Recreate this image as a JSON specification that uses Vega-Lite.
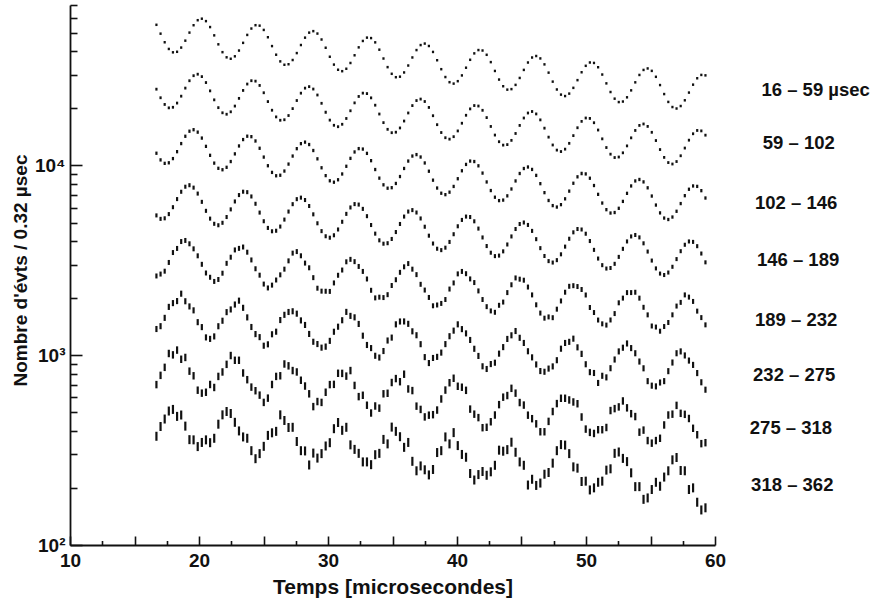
{
"$schema":"https://vega.github.io/schema/vega-lite/v6.json",
"width":645,"height":540,"autosize":"none",
"padding":{"left":70,"top":5,"right":167,"bottom":56},
"background":"white",
"config":{"view":{"stroke":null},"axis":{"domainColor":"#111","domainWidth":1.8,"tickColor":"#111","tickWidth":1.6,"labelColor":"#111","titleColor":"#111","labelFont":"Liberation Sans","titleFont":"Liberation Sans","labelFontWeight":"bold","titleFontWeight":"bold","grid":false,"labelFlush":false}},
"datasets":{
"lab":[
{"lab":"16 – 59  µsec","t":63.6,"n":24810},
{"lab":"59 – 102","t":63.7,"n":13050},
{"lab":"102 – 146","t":63.1,"n":6310},
{"lab":"146 – 189","t":63.25,"n":3160},
{"lab":"189 – 232","t":63.1,"n":1530},
{"lab":"232 –  275","t":62.95,"n":785},
{"lab":"275 – 318","t":62.7,"n":413},
{"lab":"318 – 362","t":62.8,"n":207}
],
"pts":[
{"k":1,"t":16.7,"n":55050},{"k":1,"t":17.02,"n":49440},{"k":1,"t":17.34,"n":44540},{"k":1,"t":17.66,"n":41070},{"k":1,"t":17.98,"n":39420},
{"k":1,"t":18.3,"n":39680},{"k":1,"t":18.62,"n":41760},{"k":1,"t":18.94,"n":45420},{"k":1,"t":19.26,"n":50080},{"k":1,"t":19.58,"n":54770},
{"k":1,"t":19.9,"n":58210},{"k":1,"t":20.22,"n":59280},{"k":1,"t":20.54,"n":57560},{"k":1,"t":20.86,"n":53560},{"k":1,"t":21.18,"n":48430},
{"k":1,"t":21.5,"n":43440},{"k":1,"t":21.82,"n":39500},{"k":1,"t":22.14,"n":37110},{"k":1,"t":22.46,"n":36460},{"k":1,"t":22.78,"n":37560},
{"k":1,"t":23.1,"n":40280},{"k":1,"t":23.42,"n":44220},{"k":1,"t":23.74,"n":48690},{"k":1,"t":24.06,"n":52610},{"k":1,"t":24.38,"n":54790},
{"k":1,"t":24.7,"n":54490},{"k":1,"t":25.02,"n":51730},{"k":1,"t":25.34,"n":47340},{"k":1,"t":25.66,"n":42520},{"k":1,"t":25.98,"n":38300},
{"k":1,"t":26.3,"n":35320},{"k":1,"t":26.62,"n":33900},{"k":1,"t":26.94,"n":34120},{"k":1,"t":27.26,"n":35910},{"k":1,"t":27.58,"n":39060},
{"k":1,"t":27.9,"n":43070},{"k":1,"t":28.22,"n":47100},{"k":1,"t":28.54,"n":50060},{"k":1,"t":28.86,"n":50980},{"k":1,"t":29.18,"n":49500},
{"k":1,"t":29.5,"n":46060},{"k":1,"t":29.82,"n":41650},{"k":1,"t":30.14,"n":37360},{"k":1,"t":30.46,"n":33970},{"k":1,"t":30.78,"n":31910},
{"k":1,"t":31.1,"n":31360},{"k":1,"t":31.42,"n":32300},{"k":1,"t":31.74,"n":34640},{"k":1,"t":32.06,"n":38030},{"k":1,"t":32.38,"n":41870},
{"k":1,"t":32.7,"n":45250},{"k":1,"t":33.02,"n":47120},{"k":1,"t":33.34,"n":46860},{"k":1,"t":33.66,"n":44490},{"k":1,"t":33.98,"n":40710},
{"k":1,"t":34.3,"n":36570},{"k":1,"t":34.62,"n":32940},{"k":1,"t":34.94,"n":30380},{"k":1,"t":35.26,"n":29150},{"k":1,"t":35.58,"n":29340},
{"k":1,"t":35.9,"n":30880},{"k":1,"t":36.22,"n":33590},{"k":1,"t":36.54,"n":37040},{"k":1,"t":36.86,"n":40510},{"k":1,"t":37.18,"n":43050},
{"k":1,"t":37.5,"n":43840},{"k":1,"t":37.82,"n":42570},{"k":1,"t":38.14,"n":39610},{"k":1,"t":38.46,"n":35820},{"k":1,"t":38.78,"n":32130},
{"k":1,"t":39.1,"n":29210},{"k":1,"t":39.42,"n":27440},{"k":1,"t":39.74,"n":26970},{"k":1,"t":40.06,"n":27780},{"k":1,"t":40.38,"n":29790},
{"k":1,"t":40.7,"n":32710},{"k":1,"t":41.02,"n":36010},{"k":1,"t":41.34,"n":38920},{"k":1,"t":41.66,"n":40520},{"k":1,"t":41.98,"n":40300},
{"k":1,"t":42.3,"n":38260},{"k":1,"t":42.62,"n":35010},{"k":1,"t":42.94,"n":31450},{"k":1,"t":43.26,"n":28330},{"k":1,"t":43.58,"n":26130},
{"k":1,"t":43.9,"n":25070},{"k":1,"t":44.22,"n":25230},{"k":1,"t":44.54,"n":26560},{"k":1,"t":44.86,"n":28890},{"k":1,"t":45.18,"n":31850},
{"k":1,"t":45.5,"n":34840},{"k":1,"t":45.82,"n":37020},{"k":1,"t":46.14,"n":37700},{"k":1,"t":46.46,"n":36610},{"k":1,"t":46.78,"n":34060},
{"k":1,"t":47.1,"n":30810},{"k":1,"t":47.42,"n":27630},{"k":1,"t":47.74,"n":25120},{"k":1,"t":48.06,"n":23600},{"k":1,"t":48.38,"n":23190},
{"k":1,"t":48.7,"n":23890},{"k":1,"t":49.02,"n":25620},{"k":1,"t":49.34,"n":28130},{"k":1,"t":49.66,"n":30970},{"k":1,"t":49.98,"n":33470},
{"k":1,"t":50.3,"n":34850},{"k":1,"t":50.62,"n":34660},{"k":1,"t":50.94,"n":32900},{"k":1,"t":51.26,"n":30110},{"k":1,"t":51.58,"n":27050},
{"k":1,"t":51.9,"n":24360},{"k":1,"t":52.22,"n":22470},{"k":1,"t":52.54,"n":21560},{"k":1,"t":52.86,"n":21700},{"k":1,"t":53.18,"n":22840},
{"k":1,"t":53.5,"n":24850},{"k":1,"t":53.82,"n":27390},{"k":1,"t":54.14,"n":29960},{"k":1,"t":54.46,"n":31840},{"k":1,"t":54.78,"n":32420},
{"k":1,"t":55.1,"n":31480},{"k":1,"t":55.42,"n":29290},{"k":1,"t":55.74,"n":26500},{"k":1,"t":56.06,"n":23760},{"k":1,"t":56.38,"n":21600},
{"k":1,"t":56.7,"n":20300},{"k":1,"t":57.02,"n":19940},{"k":1,"t":57.34,"n":20550},{"k":1,"t":57.66,"n":22030},{"k":1,"t":57.98,"n":24190},
{"k":1,"t":58.3,"n":26630},{"k":1,"t":58.62,"n":28780},{"k":1,"t":58.94,"n":29970},{"k":1,"t":59.26,"n":29810},
{"k":2,"t":16.7,"n":25210},{"k":2,"t":17.02,"n":22720},{"k":2,"t":17.34,"n":20950},{"k":2,"t":17.66,"n":20100},{"k":2,"t":17.98,"n":20240},
{"k":2,"t":18.3,"n":21300},{"k":2,"t":18.62,"n":23160},{"k":2,"t":18.94,"n":25540},{"k":2,"t":19.26,"n":27930},{"k":2,"t":19.58,"n":29690},
{"k":2,"t":19.9,"n":30230},{"k":2,"t":20.22,"n":29360},{"k":2,"t":20.54,"n":27320},{"k":2,"t":20.86,"n":24700},{"k":2,"t":21.18,"n":22150},
{"k":2,"t":21.5,"n":20150},{"k":2,"t":21.82,"n":18930},{"k":2,"t":22.14,"n":18600},{"k":2,"t":22.46,"n":19160},{"k":2,"t":22.78,"n":20540},
{"k":2,"t":23.1,"n":22550},{"k":2,"t":23.42,"n":24830},{"k":2,"t":23.74,"n":26830},{"k":2,"t":24.06,"n":27940},{"k":2,"t":24.38,"n":27790},
{"k":2,"t":24.7,"n":26380},{"k":2,"t":25.02,"n":24140},{"k":2,"t":25.34,"n":21690},{"k":2,"t":25.66,"n":19530},{"k":2,"t":25.98,"n":18010},
{"k":2,"t":26.3,"n":17290},{"k":2,"t":26.62,"n":17400},{"k":2,"t":26.94,"n":18310},{"k":2,"t":27.26,"n":19920},{"k":2,"t":27.58,"n":21970},
{"k":2,"t":27.9,"n":24020},{"k":2,"t":28.22,"n":25530},{"k":2,"t":28.54,"n":26000},{"k":2,"t":28.86,"n":25250},{"k":2,"t":29.18,"n":23490},
{"k":2,"t":29.5,"n":21240},{"k":2,"t":29.82,"n":19050},{"k":2,"t":30.14,"n":17320},{"k":2,"t":30.46,"n":16270},{"k":2,"t":30.78,"n":15990},
{"k":2,"t":31.1,"n":16470},{"k":2,"t":31.42,"n":17670},{"k":2,"t":31.74,"n":19400},{"k":2,"t":32.06,"n":21350},{"k":2,"t":32.38,"n":23080},
{"k":2,"t":32.7,"n":24030},{"k":2,"t":33.02,"n":23900},{"k":2,"t":33.34,"n":22690},{"k":2,"t":33.66,"n":20760},{"k":2,"t":33.98,"n":18650},
{"k":2,"t":34.3,"n":16800},{"k":2,"t":34.62,"n":15490},{"k":2,"t":34.94,"n":14870},{"k":2,"t":35.26,"n":14960},{"k":2,"t":35.58,"n":15750},
{"k":2,"t":35.9,"n":17130},{"k":2,"t":36.22,"n":18890},{"k":2,"t":36.54,"n":20660},{"k":2,"t":36.86,"n":21960},{"k":2,"t":37.18,"n":22360},
{"k":2,"t":37.5,"n":21710},{"k":2,"t":37.82,"n":20200},{"k":2,"t":38.14,"n":18270},{"k":2,"t":38.46,"n":16390},{"k":2,"t":38.78,"n":14900},
{"k":2,"t":39.1,"n":13990},{"k":2,"t":39.42,"n":13750},{"k":2,"t":39.74,"n":14170},{"k":2,"t":40.06,"n":15190},{"k":2,"t":40.38,"n":16680},
{"k":2,"t":40.7,"n":18370},{"k":2,"t":41.02,"n":19850},{"k":2,"t":41.34,"n":20670},{"k":2,"t":41.66,"n":20550},{"k":2,"t":41.98,"n":19510},
{"k":2,"t":42.3,"n":17860},{"k":2,"t":42.62,"n":16040},{"k":2,"t":42.94,"n":14450},{"k":2,"t":43.26,"n":13330},{"k":2,"t":43.58,"n":12790},
{"k":2,"t":43.9,"n":12870},{"k":2,"t":44.22,"n":13550},{"k":2,"t":44.54,"n":14730},{"k":2,"t":44.86,"n":16240},{"k":2,"t":45.18,"n":17770},
{"k":2,"t":45.5,"n":18880},{"k":2,"t":45.82,"n":19230},{"k":2,"t":46.14,"n":18670},{"k":2,"t":46.46,"n":17370},{"k":2,"t":46.78,"n":15710},
{"k":2,"t":47.1,"n":14090},{"k":2,"t":47.42,"n":12810},{"k":2,"t":47.74,"n":12040},{"k":2,"t":48.06,"n":11830},{"k":2,"t":48.38,"n":12180},
{"k":2,"t":48.7,"n":13070},{"k":2,"t":49.02,"n":14350},{"k":2,"t":49.34,"n":15790},{"k":2,"t":49.66,"n":17070},{"k":2,"t":49.98,"n":17770},
{"k":2,"t":50.3,"n":17680},{"k":2,"t":50.62,"n":16780},{"k":2,"t":50.94,"n":15360},{"k":2,"t":51.26,"n":13800},{"k":2,"t":51.58,"n":12420},
{"k":2,"t":51.9,"n":11460},{"k":2,"t":52.22,"n":11000},{"k":2,"t":52.54,"n":11070},{"k":2,"t":52.86,"n":11650},{"k":2,"t":53.18,"n":12670},
{"k":2,"t":53.5,"n":13970},{"k":2,"t":53.82,"n":15280},{"k":2,"t":54.14,"n":16240},{"k":2,"t":54.46,"n":16530},{"k":2,"t":54.78,"n":16050},
{"k":2,"t":55.1,"n":14940},{"k":2,"t":55.42,"n":13520},{"k":2,"t":55.74,"n":12120},{"k":2,"t":56.06,"n":11020},{"k":2,"t":56.38,"n":10350},
{"k":2,"t":56.7,"n":10170},{"k":2,"t":57.02,"n":10480},{"k":2,"t":57.34,"n":11240},{"k":2,"t":57.66,"n":12340},{"k":2,"t":57.98,"n":13580},
{"k":2,"t":58.3,"n":14680},{"k":2,"t":58.62,"n":15280},{"k":2,"t":58.94,"n":15200},{"k":2,"t":59.26,"n":14430},
{"k":3,"t":16.7,"n":11590},{"k":3,"t":17.02,"n":10690},{"k":3,"t":17.34,"n":10250},{"k":3,"t":17.66,"n":10320},{"k":3,"t":17.98,"n":10860},
{"k":3,"t":18.3,"n":11810},{"k":3,"t":18.62,"n":13030},{"k":3,"t":18.94,"n":14240},{"k":3,"t":19.26,"n":15140},{"k":3,"t":19.58,"n":15420},
{"k":3,"t":19.9,"n":14970},{"k":3,"t":20.22,"n":13930},{"k":3,"t":20.54,"n":12600},{"k":3,"t":20.86,"n":11300},{"k":3,"t":21.18,"n":10280},
{"k":3,"t":21.5,"n":9654},{"k":3,"t":21.82,"n":9486},{"k":3,"t":22.14,"n":9772},{"k":3,"t":22.46,"n":10480},{"k":3,"t":22.78,"n":11500},
{"k":3,"t":23.1,"n":12660},{"k":3,"t":23.42,"n":13680},{"k":3,"t":23.74,"n":14250},{"k":3,"t":24.06,"n":14170},{"k":3,"t":24.38,"n":13450},
{"k":3,"t":24.7,"n":12310},{"k":3,"t":25.02,"n":11060},{"k":3,"t":25.34,"n":9960},{"k":3,"t":25.66,"n":9185},{"k":3,"t":25.98,"n":8818},
{"k":3,"t":26.3,"n":8874},{"k":3,"t":26.62,"n":9338},{"k":3,"t":26.94,"n":10160},{"k":3,"t":27.26,"n":11200},{"k":3,"t":27.58,"n":12250},
{"k":3,"t":27.9,"n":13020},{"k":3,"t":28.22,"n":13260},{"k":3,"t":28.54,"n":12880},{"k":3,"t":28.86,"n":11980},{"k":3,"t":29.18,"n":10830},
{"k":3,"t":29.5,"n":9716},{"k":3,"t":29.82,"n":8833},{"k":3,"t":30.14,"n":8298},{"k":3,"t":30.46,"n":8155},{"k":3,"t":30.78,"n":8400},
{"k":3,"t":31.1,"n":9012},{"k":3,"t":31.42,"n":9894},{"k":3,"t":31.74,"n":10890},{"k":3,"t":32.06,"n":11770},{"k":3,"t":32.38,"n":12260},
{"k":3,"t":32.7,"n":12190},{"k":3,"t":33.02,"n":11570},{"k":3,"t":33.34,"n":10590},{"k":3,"t":33.66,"n":9512},{"k":3,"t":33.98,"n":8568},
{"k":3,"t":34.3,"n":7900},{"k":3,"t":34.62,"n":7584},{"k":3,"t":34.94,"n":7630},{"k":3,"t":35.26,"n":8033},{"k":3,"t":35.58,"n":8736},
{"k":3,"t":35.9,"n":9634},{"k":3,"t":36.22,"n":10540},{"k":3,"t":36.54,"n":11200},{"k":3,"t":36.86,"n":11400},{"k":3,"t":37.18,"n":11070},
{"k":3,"t":37.5,"n":10300},{"k":3,"t":37.82,"n":9318},{"k":3,"t":38.14,"n":8359},{"k":3,"t":38.46,"n":7599},{"k":3,"t":38.78,"n":7135},
{"k":3,"t":39.1,"n":7013},{"k":3,"t":39.42,"n":7227},{"k":3,"t":39.74,"n":7747},{"k":3,"t":40.06,"n":8507},{"k":3,"t":40.38,"n":9369},
{"k":3,"t":40.7,"n":10120},{"k":3,"t":41.02,"n":10540},{"k":3,"t":41.34,"n":10480},{"k":3,"t":41.66,"n":9950},{"k":3,"t":41.98,"n":9109},
{"k":3,"t":42.3,"n":8180},{"k":3,"t":42.62,"n":7370},{"k":3,"t":42.94,"n":6798},{"k":3,"t":43.26,"n":6523},{"k":3,"t":43.58,"n":6564},
{"k":3,"t":43.9,"n":6911},{"k":3,"t":44.22,"n":7512},{"k":3,"t":44.54,"n":8282},{"k":3,"t":44.86,"n":9063},{"k":3,"t":45.18,"n":9629},
{"k":3,"t":45.5,"n":9807},{"k":3,"t":45.82,"n":9522},{"k":3,"t":46.14,"n":8859},{"k":3,"t":46.46,"n":8012},{"k":3,"t":46.78,"n":7186},
{"k":3,"t":47.1,"n":6533},{"k":3,"t":47.42,"n":6140},{"k":3,"t":47.74,"n":6033},{"k":3,"t":48.06,"n":6212},{"k":3,"t":48.38,"n":6666},
{"k":3,"t":48.7,"n":7319},{"k":3,"t":49.02,"n":8053},{"k":3,"t":49.34,"n":8706},{"k":3,"t":49.66,"n":9063},{"k":3,"t":49.98,"n":9017},
{"k":3,"t":50.3,"n":8558},{"k":3,"t":50.62,"n":7834},{"k":3,"t":50.94,"n":7038},{"k":3,"t":51.26,"n":6334},{"k":3,"t":51.58,"n":5845},
{"k":3,"t":51.9,"n":5610},{"k":3,"t":52.22,"n":5646},{"k":3,"t":52.54,"n":5942},{"k":3,"t":52.86,"n":6462},{"k":3,"t":53.18,"n":7125},
{"k":3,"t":53.5,"n":7793},{"k":3,"t":53.82,"n":8282},{"k":3,"t":54.14,"n":8430},{"k":3,"t":54.46,"n":8186},{"k":3,"t":54.78,"n":7619},
{"k":3,"t":55.1,"n":6895},{"k":3,"t":55.42,"n":6181},{"k":3,"t":55.74,"n":5620},{"k":3,"t":56.06,"n":5279},{"k":3,"t":56.38,"n":5187},
{"k":3,"t":56.7,"n":5345},{"k":3,"t":57.02,"n":5732},{"k":3,"t":57.34,"n":6293},{"k":3,"t":57.66,"n":6926},{"k":3,"t":57.98,"n":7487},
{"k":3,"t":58.3,"n":7793},{"k":3,"t":58.62,"n":7752},{"k":3,"t":58.94,"n":7359},{"k":3,"t":59.26,"n":6732},
{"k":4,"t":16.7,"n":5452},{"k":4,"t":17.02,"n":5228},{"k":4,"t":17.34,"n":5263},{"k":4,"t":17.66,"n":5539},{"k":4,"t":17.98,"n":6023},
{"k":4,"t":18.3,"n":6645},{"k":4,"t":18.62,"n":7262},{"k":4,"t":18.94,"n":7721},{"k":4,"t":19.26,"n":7864},{"k":4,"t":19.58,"n":7635},
{"k":4,"t":19.9,"n":7104},{"k":4,"t":20.22,"n":6426},{"k":4,"t":20.54,"n":5763},{"k":4,"t":20.86,"n":5243},{"k":4,"t":21.18,"n":4924},
{"k":4,"t":21.5,"n":4838},{"k":4,"t":21.82,"n":4984},{"k":4,"t":22.14,"n":5345},{"k":4,"t":22.46,"n":5865},{"k":4,"t":22.78,"n":6457},
{"k":4,"t":23.1,"n":6977},{"k":4,"t":23.42,"n":7268},{"k":4,"t":23.74,"n":7227},{"k":4,"t":24.06,"n":6860},{"k":4,"t":24.38,"n":6278},
{"k":4,"t":24.7,"n":5641},{"k":4,"t":25.02,"n":5080},{"k":4,"t":25.34,"n":4684},{"k":4,"t":25.66,"n":4497},{"k":4,"t":25.98,"n":4526},
{"k":4,"t":26.3,"n":4762},{"k":4,"t":26.62,"n":5182},{"k":4,"t":26.94,"n":5712},{"k":4,"t":27.26,"n":6248},{"k":4,"t":27.58,"n":6640},
{"k":4,"t":27.9,"n":6763},{"k":4,"t":28.22,"n":6569},{"k":4,"t":28.54,"n":6110},{"k":4,"t":28.86,"n":5523},{"k":4,"t":29.18,"n":4955},
{"k":4,"t":29.5,"n":4505},{"k":4,"t":29.82,"n":4232},{"k":4,"t":30.14,"n":4159},{"k":4,"t":30.46,"n":4284},{"k":4,"t":30.78,"n":4596},
{"k":4,"t":31.1,"n":5046},{"k":4,"t":31.42,"n":5554},{"k":4,"t":31.74,"n":6003},{"k":4,"t":32.06,"n":6253},{"k":4,"t":32.38,"n":6217},
{"k":4,"t":32.7,"n":5901},{"k":4,"t":33.02,"n":5401},{"k":4,"t":33.34,"n":4851},{"k":4,"t":33.66,"n":4370},{"k":4,"t":33.98,"n":4029},
{"k":4,"t":34.3,"n":3868},{"k":4,"t":34.62,"n":3891},{"k":4,"t":34.94,"n":4097},{"k":4,"t":35.26,"n":4455},{"k":4,"t":35.58,"n":4913},
{"k":4,"t":35.9,"n":5375},{"k":4,"t":36.22,"n":5712},{"k":4,"t":36.54,"n":5814},{"k":4,"t":36.86,"n":5646},{"k":4,"t":37.18,"n":5253},
{"k":4,"t":37.5,"n":4752},{"k":4,"t":37.82,"n":4263},{"k":4,"t":38.14,"n":3876},{"k":4,"t":38.46,"n":3639},{"k":4,"t":38.78,"n":3577},
{"k":4,"t":39.1,"n":3686},{"k":4,"t":39.42,"n":3951},{"k":4,"t":39.74,"n":4339},{"k":4,"t":40.06,"n":4778},{"k":4,"t":40.38,"n":5161},
{"k":4,"t":40.7,"n":5375},{"k":4,"t":41.02,"n":5345},{"k":4,"t":41.34,"n":5075},{"k":4,"t":41.66,"n":4646},{"k":4,"t":41.98,"n":4172},
{"k":4,"t":42.3,"n":3759},{"k":4,"t":42.62,"n":3467},{"k":4,"t":42.94,"n":3327},{"k":4,"t":43.26,"n":3348},{"k":4,"t":43.58,"n":3525},
{"k":4,"t":43.9,"n":3831},{"k":4,"t":44.22,"n":4224},{"k":4,"t":44.54,"n":4622},{"k":4,"t":44.86,"n":4911},{"k":4,"t":45.18,"n":5002},
{"k":4,"t":45.5,"n":4856},{"k":4,"t":45.82,"n":4518},{"k":4,"t":46.14,"n":4086},{"k":4,"t":46.46,"n":3665},{"k":4,"t":46.78,"n":3332},
{"k":4,"t":47.1,"n":3131},{"k":4,"t":47.42,"n":3077},{"k":4,"t":47.74,"n":3168},{"k":4,"t":48.06,"n":3400},{"k":4,"t":48.38,"n":3733},
{"k":4,"t":48.7,"n":4107},{"k":4,"t":49.02,"n":4440},{"k":4,"t":49.34,"n":4622},{"k":4,"t":49.66,"n":4599},{"k":4,"t":49.98,"n":4365},
{"k":4,"t":50.3,"n":3995},{"k":4,"t":50.62,"n":3589},{"k":4,"t":50.94,"n":3230},{"k":4,"t":51.26,"n":2981},{"k":4,"t":51.58,"n":2861},
{"k":4,"t":51.9,"n":2880},{"k":4,"t":52.22,"n":3030},{"k":4,"t":52.54,"n":3296},{"k":4,"t":52.86,"n":3634},{"k":4,"t":53.18,"n":3975},
{"k":4,"t":53.5,"n":4224},{"k":4,"t":53.82,"n":4299},{"k":4,"t":54.14,"n":4175},{"k":4,"t":54.46,"n":3886},{"k":4,"t":54.78,"n":3516},
{"k":4,"t":55.1,"n":3152},{"k":4,"t":55.42,"n":2866},{"k":4,"t":55.74,"n":2692},{"k":4,"t":56.06,"n":2645},{"k":4,"t":56.38,"n":2726},
{"k":4,"t":56.7,"n":2923},{"k":4,"t":57.02,"n":3209},{"k":4,"t":57.34,"n":3532},{"k":4,"t":57.66,"n":3818},{"k":4,"t":57.98,"n":3975},
{"k":4,"t":58.3,"n":3954},{"k":4,"t":58.62,"n":3753},{"k":4,"t":58.94,"n":3433},{"k":4,"t":59.26,"n":3085},
{"k":5,"t":16.7,"n":2615},{"k":5,"t":17.02,"n":2676},{"k":5,"t":17.34,"n":2771},{"k":5,"t":17.66,"n":3081},{"k":5,"t":17.98,"n":3474},
{"k":5,"t":18.3,"n":3652},{"k":5,"t":18.62,"n":3970},{"k":5,"t":18.94,"n":4023},{"k":5,"t":19.26,"n":3863},{"k":5,"t":19.58,"n":3634},
{"k":5,"t":19.9,"n":3339},{"k":5,"t":20.22,"n":3012},{"k":5,"t":20.54,"n":2711},{"k":5,"t":20.86,"n":2574},{"k":5,"t":21.18,"n":2447},
{"k":5,"t":21.5,"n":2506},{"k":5,"t":21.82,"n":2704},{"k":5,"t":22.14,"n":3048},{"k":5,"t":22.46,"n":3283},{"k":5,"t":22.78,"n":3586},
{"k":5,"t":23.1,"n":3655},{"k":5,"t":23.42,"n":3715},{"k":5,"t":23.74,"n":3489},{"k":5,"t":24.06,"n":3176},{"k":5,"t":24.38,"n":2854},
{"k":5,"t":24.7,"n":2640},{"k":5,"t":25.02,"n":2370},{"k":5,"t":25.34,"n":2261},{"k":5,"t":25.66,"n":2340},{"k":5,"t":25.98,"n":2490},
{"k":5,"t":26.3,"n":2651},{"k":5,"t":26.62,"n":2840},{"k":5,"t":26.94,"n":3141},{"k":5,"t":27.26,"n":3450},{"k":5,"t":27.58,"n":3515},
{"k":5,"t":27.9,"n":3340},{"k":5,"t":28.22,"n":3057},{"k":5,"t":28.54,"n":2887},{"k":5,"t":28.86,"n":2562},{"k":5,"t":29.18,"n":2254},
{"k":5,"t":29.5,"n":2175},{"k":5,"t":29.82,"n":2174},{"k":5,"t":30.14,"n":2168},{"k":5,"t":30.46,"n":2403},{"k":5,"t":30.78,"n":2637},
{"k":5,"t":31.1,"n":2810},{"k":5,"t":31.42,"n":3105},{"k":5,"t":31.74,"n":3199},{"k":5,"t":32.06,"n":3111},{"k":5,"t":32.38,"n":2935},
{"k":5,"t":32.7,"n":2763},{"k":5,"t":33.02,"n":2521},{"k":5,"t":33.34,"n":2198},{"k":5,"t":33.66,"n":2004},{"k":5,"t":33.98,"n":2022},
{"k":5,"t":34.3,"n":2012},{"k":5,"t":34.62,"n":2084},{"k":5,"t":34.94,"n":2329},{"k":5,"t":35.26,"n":2498},{"k":5,"t":35.58,"n":2733},
{"k":5,"t":35.9,"n":2922},{"k":5,"t":36.22,"n":3039},{"k":5,"t":36.54,"n":2840},{"k":5,"t":36.86,"n":2658},{"k":5,"t":37.18,"n":2363},
{"k":5,"t":37.5,"n":2204},{"k":5,"t":37.82,"n":2015},{"k":5,"t":38.14,"n":1821},{"k":5,"t":38.46,"n":1839},{"k":5,"t":38.78,"n":1874},
{"k":5,"t":39.1,"n":1965},{"k":5,"t":39.42,"n":2231},{"k":5,"t":39.74,"n":2403},{"k":5,"t":40.06,"n":2682},{"k":5,"t":40.38,"n":2763},
{"k":5,"t":40.7,"n":2688},{"k":5,"t":41.02,"n":2523},{"k":5,"t":41.34,"n":2414},{"k":5,"t":41.66,"n":2181},{"k":5,"t":41.98,"n":1965},
{"k":5,"t":42.3,"n":1802},{"k":5,"t":42.62,"n":1711},{"k":5,"t":42.94,"n":1683},{"k":5,"t":43.26,"n":1832},{"k":5,"t":43.58,"n":1905},
{"k":5,"t":43.9,"n":2137},{"k":5,"t":44.22,"n":2350},{"k":5,"t":44.54,"n":2553},{"k":5,"t":44.86,"n":2515},{"k":5,"t":45.18,"n":2484},
{"k":5,"t":45.5,"n":2286},{"k":5,"t":45.82,"n":2078},{"k":5,"t":46.14,"n":1843},{"k":5,"t":46.46,"n":1667},{"k":5,"t":46.78,"n":1567},
{"k":5,"t":47.1,"n":1591},{"k":5,"t":47.42,"n":1576},{"k":5,"t":47.74,"n":1748},{"k":5,"t":48.06,"n":1931},{"k":5,"t":48.38,"n":2147},
{"k":5,"t":48.7,"n":2307},{"k":5,"t":49.02,"n":2324},{"k":5,"t":49.34,"n":2300},{"k":5,"t":49.66,"n":2219},{"k":5,"t":49.98,"n":2076},
{"k":5,"t":50.3,"n":1784},{"k":5,"t":50.62,"n":1678},{"k":5,"t":50.94,"n":1532},{"k":5,"t":51.26,"n":1463},{"k":5,"t":51.58,"n":1441},
{"k":5,"t":51.9,"n":1533},{"k":5,"t":52.22,"n":1657},{"k":5,"t":52.54,"n":1888},{"k":5,"t":52.86,"n":1999},{"k":5,"t":53.18,"n":2137},
{"k":5,"t":53.5,"n":2137},{"k":5,"t":53.82,"n":2146},{"k":5,"t":54.14,"n":1998},{"k":5,"t":54.46,"n":1788},{"k":5,"t":54.78,"n":1631},
{"k":5,"t":55.1,"n":1425},{"k":5,"t":55.42,"n":1407},{"k":5,"t":55.74,"n":1338},{"k":5,"t":56.06,"n":1416},{"k":5,"t":56.38,"n":1487},
{"k":5,"t":56.7,"n":1632},{"k":5,"t":57.02,"n":1815},{"k":5,"t":57.34,"n":1898},{"k":5,"t":57.66,"n":2078},{"k":5,"t":57.98,"n":2023},
{"k":5,"t":58.3,"n":1920},{"k":5,"t":58.62,"n":1707},{"k":5,"t":58.94,"n":1578},{"k":5,"t":59.26,"n":1445},
{"k":6,"t":16.7,"n":1374},{"k":6,"t":17.02,"n":1422},{"k":6,"t":17.34,"n":1573},{"k":6,"t":17.66,"n":1797},{"k":6,"t":17.98,"n":1881},
{"k":6,"t":18.3,"n":1928},{"k":6,"t":18.62,"n":2109},{"k":6,"t":18.94,"n":1924},{"k":6,"t":19.26,"n":1807},{"k":6,"t":19.58,"n":1723},
{"k":6,"t":19.9,"n":1493},{"k":6,"t":20.22,"n":1406},{"k":6,"t":20.54,"n":1241},{"k":6,"t":20.86,"n":1219},{"k":6,"t":21.18,"n":1256},
{"k":6,"t":21.5,"n":1421},{"k":6,"t":21.82,"n":1519},{"k":6,"t":22.14,"n":1686},{"k":6,"t":22.46,"n":1742},{"k":6,"t":22.78,"n":1849},
{"k":6,"t":23.1,"n":1938},{"k":6,"t":23.42,"n":1777},{"k":6,"t":23.74,"n":1582},{"k":6,"t":24.06,"n":1408},{"k":6,"t":24.38,"n":1292},
{"k":6,"t":24.7,"n":1245},{"k":6,"t":25.02,"n":1122},{"k":6,"t":25.34,"n":1141},{"k":6,"t":25.66,"n":1289},{"k":6,"t":25.98,"n":1330},
{"k":6,"t":26.3,"n":1532},{"k":6,"t":26.62,"n":1632},{"k":6,"t":26.94,"n":1689},{"k":6,"t":27.26,"n":1704},{"k":6,"t":27.58,"n":1655},
{"k":6,"t":27.9,"n":1525},{"k":6,"t":28.22,"n":1443},{"k":6,"t":28.54,"n":1294},{"k":6,"t":28.86,"n":1177},{"k":6,"t":29.18,"n":1145},
{"k":6,"t":29.5,"n":1096},{"k":6,"t":29.82,"n":1110},{"k":6,"t":30.14,"n":1190},{"k":6,"t":30.46,"n":1329},{"k":6,"t":30.78,"n":1413},
{"k":6,"t":31.1,"n":1528},{"k":6,"t":31.42,"n":1691},{"k":6,"t":31.74,"n":1611},{"k":6,"t":32.06,"n":1583},{"k":6,"t":32.38,"n":1461},
{"k":6,"t":32.7,"n":1267},{"k":6,"t":33.02,"n":1132},{"k":6,"t":33.34,"n":1090},{"k":6,"t":33.66,"n":993},{"k":6,"t":33.98,"n":972},
{"k":6,"t":34.3,"n":1052},{"k":6,"t":34.62,"n":1195},{"k":6,"t":34.94,"n":1238},{"k":6,"t":35.26,"n":1454},{"k":6,"t":35.58,"n":1505},
{"k":6,"t":35.9,"n":1506},{"k":6,"t":36.22,"n":1463},{"k":6,"t":36.54,"n":1336},{"k":6,"t":36.86,"n":1274},{"k":6,"t":37.18,"n":1143},
{"k":6,"t":37.5,"n":977},{"k":6,"t":37.82,"n":909},{"k":6,"t":38.14,"n":967},{"k":6,"t":38.46,"n":980},{"k":6,"t":38.78,"n":1032},
{"k":6,"t":39.1,"n":1144},{"k":6,"t":39.42,"n":1259},{"k":6,"t":39.74,"n":1347},{"k":6,"t":40.06,"n":1454},{"k":6,"t":40.38,"n":1372},
{"k":6,"t":40.7,"n":1303},{"k":6,"t":41.02,"n":1203},{"k":6,"t":41.34,"n":1081},{"k":6,"t":41.66,"n":991},{"k":6,"t":41.98,"n":874},
{"k":6,"t":42.3,"n":846},{"k":6,"t":42.62,"n":898},{"k":6,"t":42.94,"n":913},{"k":6,"t":43.26,"n":1019},{"k":6,"t":43.58,"n":1103},
{"k":6,"t":43.9,"n":1218},{"k":6,"t":44.22,"n":1273},{"k":6,"t":44.54,"n":1341},{"k":6,"t":44.86,"n":1235},{"k":6,"t":45.18,"n":1160},
{"k":6,"t":45.5,"n":1049},{"k":6,"t":45.82,"n":974},{"k":6,"t":46.14,"n":894},{"k":6,"t":46.46,"n":825},{"k":6,"t":46.78,"n":818},
{"k":6,"t":47.1,"n":850},{"k":6,"t":47.42,"n":873},{"k":6,"t":47.74,"n":941},{"k":6,"t":48.06,"n":1082},{"k":6,"t":48.38,"n":1160},
{"k":6,"t":48.7,"n":1176},{"k":6,"t":49.02,"n":1222},{"k":6,"t":49.34,"n":1100},{"k":6,"t":49.66,"n":1016},{"k":6,"t":49.98,"n":896},
{"k":6,"t":50.3,"n":814},{"k":6,"t":50.62,"n":806},{"k":6,"t":50.94,"n":714},{"k":6,"t":51.26,"n":779},{"k":6,"t":51.58,"n":764},
{"k":6,"t":51.9,"n":854},{"k":6,"t":52.22,"n":949},{"k":6,"t":52.54,"n":1047},{"k":6,"t":52.86,"n":1095},{"k":6,"t":53.18,"n":1153},
{"k":6,"t":53.5,"n":1090},{"k":6,"t":53.82,"n":1024},{"k":6,"t":54.14,"n":926},{"k":6,"t":54.46,"n":853},{"k":6,"t":54.78,"n":730},
{"k":6,"t":55.1,"n":691},{"k":6,"t":55.42,"n":685},{"k":6,"t":55.74,"n":718},{"k":6,"t":56.06,"n":730},{"k":6,"t":56.38,"n":824},
{"k":6,"t":56.7,"n":915},{"k":6,"t":57.02,"n":1024},{"k":6,"t":57.34,"n":1047},{"k":6,"t":57.66,"n":997},{"k":6,"t":57.98,"n":937},
{"k":6,"t":58.3,"n":889},{"k":6,"t":58.62,"n":805},{"k":6,"t":58.94,"n":720},{"k":6,"t":59.26,"n":658},
{"k":7,"t":16.7,"n":700},{"k":7,"t":17.02,"n":783},{"k":7,"t":17.34,"n":863},{"k":7,"t":17.66,"n":1021},{"k":7,"t":17.98,"n":1004},
{"k":7,"t":18.3,"n":1064},{"k":7,"t":18.62,"n":952},{"k":7,"t":18.94,"n":973},{"k":7,"t":19.26,"n":824},{"k":7,"t":19.58,"n":779},
{"k":7,"t":19.9,"n":654},{"k":7,"t":20.22,"n":631},{"k":7,"t":20.54,"n":638},{"k":7,"t":20.86,"n":701},{"k":7,"t":21.18,"n":676},
{"k":7,"t":21.5,"n":773},{"k":7,"t":21.82,"n":816},{"k":7,"t":22.14,"n":895},{"k":7,"t":22.46,"n":996},{"k":7,"t":22.78,"n":940},
{"k":7,"t":23.1,"n":940},{"k":7,"t":23.42,"n":806},{"k":7,"t":23.74,"n":743},{"k":7,"t":24.06,"n":679},{"k":7,"t":24.38,"n":650},
{"k":7,"t":24.7,"n":616},{"k":7,"t":25.02,"n":564},{"k":7,"t":25.34,"n":594},{"k":7,"t":25.66,"n":701},{"k":7,"t":25.98,"n":773},
{"k":7,"t":26.3,"n":779},{"k":7,"t":26.62,"n":899},{"k":7,"t":26.94,"n":879},{"k":7,"t":27.26,"n":830},{"k":7,"t":27.58,"n":816},
{"k":7,"t":27.9,"n":738},{"k":7,"t":28.22,"n":688},{"k":7,"t":28.54,"n":626},{"k":7,"t":28.86,"n":536},{"k":7,"t":29.18,"n":570},
{"k":7,"t":29.5,"n":564},{"k":7,"t":29.82,"n":638},{"k":7,"t":30.14,"n":700},{"k":7,"t":30.46,"n":702},{"k":7,"t":30.78,"n":803},
{"k":7,"t":31.1,"n":802},{"k":7,"t":31.42,"n":776},{"k":7,"t":31.74,"n":830},{"k":7,"t":32.06,"n":693},{"k":7,"t":32.38,"n":605},
{"k":7,"t":32.7,"n":615},{"k":7,"t":33.02,"n":545},{"k":7,"t":33.34,"n":496},{"k":7,"t":33.66,"n":540},{"k":7,"t":33.98,"n":526},
{"k":7,"t":34.3,"n":626},{"k":7,"t":34.62,"n":630},{"k":7,"t":34.94,"n":718},{"k":7,"t":35.26,"n":753},{"k":7,"t":35.58,"n":725},
{"k":7,"t":35.9,"n":794},{"k":7,"t":36.22,"n":664},{"k":7,"t":36.54,"n":651},{"k":7,"t":36.86,"n":539},{"k":7,"t":37.18,"n":518},
{"k":7,"t":37.5,"n":473},{"k":7,"t":37.82,"n":483},{"k":7,"t":38.14,"n":486},{"k":7,"t":38.46,"n":514},{"k":7,"t":38.78,"n":588},
{"k":7,"t":39.1,"n":655},{"k":7,"t":39.42,"n":716},{"k":7,"t":39.74,"n":756},{"k":7,"t":40.06,"n":686},{"k":7,"t":40.38,"n":678},
{"k":7,"t":40.7,"n":653},{"k":7,"t":41.02,"n":520},{"k":7,"t":41.34,"n":489},{"k":7,"t":41.66,"n":469},{"k":7,"t":41.98,"n":415},
{"k":7,"t":42.3,"n":417},{"k":7,"t":42.62,"n":446},{"k":7,"t":42.94,"n":484},{"k":7,"t":43.26,"n":549},{"k":7,"t":43.58,"n":601},
{"k":7,"t":43.9,"n":613},{"k":7,"t":44.22,"n":669},{"k":7,"t":44.54,"n":631},{"k":7,"t":44.86,"n":563},{"k":7,"t":45.18,"n":546},
{"k":7,"t":45.5,"n":483},{"k":7,"t":45.82,"n":463},{"k":7,"t":46.14,"n":435},{"k":7,"t":46.46,"n":395},{"k":7,"t":46.78,"n":395},
{"k":7,"t":47.1,"n":448},{"k":7,"t":47.42,"n":505},{"k":7,"t":47.74,"n":556},{"k":7,"t":48.06,"n":593},{"k":7,"t":48.38,"n":593},
{"k":7,"t":48.7,"n":581},{"k":7,"t":49.02,"n":567},{"k":7,"t":49.34,"n":555},{"k":7,"t":49.66,"n":473},{"k":7,"t":49.98,"n":408},
{"k":7,"t":50.3,"n":392},{"k":7,"t":50.62,"n":387},{"k":7,"t":50.94,"n":405},{"k":7,"t":51.26,"n":405},{"k":7,"t":51.58,"n":416},
{"k":7,"t":51.9,"n":511},{"k":7,"t":52.22,"n":523},{"k":7,"t":52.54,"n":534},{"k":7,"t":52.86,"n":574},{"k":7,"t":53.18,"n":528},
{"k":7,"t":53.5,"n":492},{"k":7,"t":53.82,"n":475},{"k":7,"t":54.14,"n":393},{"k":7,"t":54.46,"n":403},{"k":7,"t":54.78,"n":355},
{"k":7,"t":55.1,"n":344},{"k":7,"t":55.42,"n":355},{"k":7,"t":55.74,"n":365},{"k":7,"t":56.06,"n":429},{"k":7,"t":56.38,"n":484},
{"k":7,"t":56.7,"n":489},{"k":7,"t":57.02,"n":544},{"k":7,"t":57.34,"n":494},{"k":7,"t":57.66,"n":488},{"k":7,"t":57.98,"n":464},
{"k":7,"t":58.3,"n":412},{"k":7,"t":58.62,"n":381},{"k":7,"t":58.94,"n":342},{"k":7,"t":59.26,"n":346},
{"k":8,"t":16.7,"n":374},{"k":8,"t":17.02,"n":421},{"k":8,"t":17.34,"n":461},{"k":8,"t":17.66,"n":508},{"k":8,"t":17.98,"n":518},
{"k":8,"t":18.3,"n":476},{"k":8,"t":18.62,"n":484},{"k":8,"t":18.94,"n":423},{"k":8,"t":19.26,"n":359},{"k":8,"t":19.58,"n":358},
{"k":8,"t":19.9,"n":330},{"k":8,"t":20.22,"n":347},{"k":8,"t":20.54,"n":358},{"k":8,"t":20.86,"n":346},{"k":8,"t":21.18,"n":365},
{"k":8,"t":21.5,"n":433},{"k":8,"t":21.82,"n":485},{"k":8,"t":22.14,"n":505},{"k":8,"t":22.46,"n":493},{"k":8,"t":22.78,"n":443},
{"k":8,"t":23.1,"n":399},{"k":8,"t":23.42,"n":371},{"k":8,"t":23.74,"n":365},{"k":8,"t":24.06,"n":314},{"k":8,"t":24.38,"n":285},
{"k":8,"t":24.7,"n":303},{"k":8,"t":25.02,"n":331},{"k":8,"t":25.34,"n":378},{"k":8,"t":25.66,"n":390},{"k":8,"t":25.98,"n":397},
{"k":8,"t":26.3,"n":485},{"k":8,"t":26.62,"n":453},{"k":8,"t":26.94,"n":416},{"k":8,"t":27.26,"n":417},{"k":8,"t":27.58,"n":351},
{"k":8,"t":27.9,"n":314},{"k":8,"t":28.22,"n":313},{"k":8,"t":28.54,"n":264},{"k":8,"t":28.86,"n":305},{"k":8,"t":29.18,"n":287},
{"k":8,"t":29.5,"n":303},{"k":8,"t":29.82,"n":332},{"k":8,"t":30.14,"n":346},{"k":8,"t":30.46,"n":410},{"k":8,"t":30.78,"n":442},
{"k":8,"t":31.1,"n":402},{"k":8,"t":31.42,"n":417},{"k":8,"t":31.74,"n":337},{"k":8,"t":32.06,"n":319},{"k":8,"t":32.38,"n":304},
{"k":8,"t":32.7,"n":274},{"k":8,"t":33.02,"n":274},{"k":8,"t":33.34,"n":265},{"k":8,"t":33.66,"n":299},{"k":8,"t":33.98,"n":304},
{"k":8,"t":34.3,"n":360},{"k":8,"t":34.62,"n":341},{"k":8,"t":34.94,"n":418},{"k":8,"t":35.26,"n":397},{"k":8,"t":35.58,"n":372},
{"k":8,"t":35.9,"n":327},{"k":8,"t":36.22,"n":347},{"k":8,"t":36.54,"n":276},{"k":8,"t":36.86,"n":246},{"k":8,"t":37.18,"n":261},
{"k":8,"t":37.5,"n":249},{"k":8,"t":37.82,"n":234},{"k":8,"t":38.14,"n":250},{"k":8,"t":38.46,"n":307},{"k":8,"t":38.78,"n":314},
{"k":8,"t":39.1,"n":371},{"k":8,"t":39.42,"n":341},{"k":8,"t":39.74,"n":391},{"k":8,"t":40.06,"n":334},{"k":8,"t":40.38,"n":300},
{"k":8,"t":40.7,"n":290},{"k":8,"t":41.02,"n":238},{"k":8,"t":41.34,"n":220},{"k":8,"t":41.66,"n":235},{"k":8,"t":41.98,"n":244},
{"k":8,"t":42.3,"n":233},{"k":8,"t":42.62,"n":243},{"k":8,"t":42.94,"n":263},{"k":8,"t":43.26,"n":316},{"k":8,"t":43.58,"n":312},
{"k":8,"t":43.9,"n":318},{"k":8,"t":44.22,"n":348},{"k":8,"t":44.54,"n":308},{"k":8,"t":44.86,"n":274},{"k":8,"t":45.18,"n":263},
{"k":8,"t":45.5,"n":207},{"k":8,"t":45.82,"n":222},{"k":8,"t":46.14,"n":206},{"k":8,"t":46.46,"n":212},{"k":8,"t":46.78,"n":236},
{"k":8,"t":47.1,"n":241},{"k":8,"t":47.42,"n":270},{"k":8,"t":47.74,"n":314},{"k":8,"t":48.06,"n":338},{"k":8,"t":48.38,"n":336},
{"k":8,"t":48.7,"n":303},{"k":8,"t":49.02,"n":258},{"k":8,"t":49.34,"n":254},{"k":8,"t":49.66,"n":216},{"k":8,"t":49.98,"n":217},
{"k":8,"t":50.3,"n":195},{"k":8,"t":50.62,"n":200},{"k":8,"t":50.94,"n":214},{"k":8,"t":51.26,"n":217},{"k":8,"t":51.58,"n":248},
{"k":8,"t":51.9,"n":252},{"k":8,"t":52.22,"n":304},{"k":8,"t":52.54,"n":309},{"k":8,"t":52.86,"n":286},{"k":8,"t":53.18,"n":275},
{"k":8,"t":53.5,"n":240},{"k":8,"t":53.82,"n":203},{"k":8,"t":54.14,"n":203},{"k":8,"t":54.46,"n":174},{"k":8,"t":54.78,"n":177},
{"k":8,"t":55.1,"n":196},{"k":8,"t":55.42,"n":214},{"k":8,"t":55.74,"n":204},{"k":8,"t":56.06,"n":228},{"k":8,"t":56.38,"n":246},
{"k":8,"t":56.7,"n":281},{"k":8,"t":57.02,"n":289},{"k":8,"t":57.34,"n":247},{"k":8,"t":57.66,"n":246},{"k":8,"t":57.98,"n":196},
{"k":8,"t":58.3,"n":200},{"k":8,"t":58.62,"n":168},{"k":8,"t":58.94,"n":153},{"k":8,"t":59.26,"n":157}
]},
"layer":[
{"data":{"name":"pts"},
 "mark":{"type":"tick","orient":"vertical","thickness":2.2,"color":"#111","opacity":1},
 "encoding":{
  "x":{"field":"t","type":"quantitative","scale":{"domain":[10,60],"nice":false,"zero":false},
   "axis":{"orient":"bottom","values":[10,20,30,40,50,60],"ticks":false,"labelFontSize":19,"labelPadding":6,"title":"Temps [microsecondes]","titleFontSize":21,"titleY":42,"titleBaseline":"middle"}},
  "y":{"field":"n","type":"quantitative","scale":{"type":"log","domain":[100,70000],"nice":false},
   "axis":{"orient":"left","values":[100,1000,10000],"ticks":false,"labelExpr":"datum.value == 100 ? '10²' : datum.value == 1000 ? '10³' : '10⁴'","labelFontSize":19,"labelPadding":5,"title":"Nombre d'évts / 0.32 µsec","titleFontSize":19,"titleAngle":-90,"titleX":-50,"titleY":265,"titleAlign":"center","titleBaseline":"middle"}},
  "size":{"field":"k","type":"quantitative","scale":{"type":"pow","exponent":2,"domain":[1,8],"range":[2.5,9],"zero":false,"nice":false},"legend":null}
 }},
{"data":{"name":"lab"},
 "mark":{"type":"text","align":"left","baseline":"middle","fontSize":18.5,"fontWeight":"bold","font":"Liberation Sans","color":"#111"},
 "encoding":{
  "x":{"field":"t","type":"quantitative","scale":{"domain":[10,60],"nice":false,"zero":false},
   "axis":{"orient":"bottom","values":[10,15,20,25,30,35,40,45,50,55,60],"tickSize":-9,"labels":false,"domain":false,"title":null}},
  "y":{"field":"n","type":"quantitative","scale":{"type":"log","domain":[100,70000],"nice":false},
   "axis":{"orient":"left","values":[100,1000,10000],"tickSize":-12,"labels":false,"domain":false,"title":null}},
  "text":{"field":"lab"}
 }},
{"data":{"name":"lab"},
 "mark":{"type":"text","opacity":0},
 "encoding":{
  "x":{"field":"t","type":"quantitative","scale":{"domain":[10,60],"nice":false,"zero":false},
   "axis":{"orient":"bottom","values":[12.5,17.5,22.5,27.5,32.5,37.5,42.5,47.5,52.5,57.5],"tickSize":-4.5,"labels":false,"domain":false,"title":null}},
  "y":{"field":"n","type":"quantitative","scale":{"type":"log","domain":[100,70000],"nice":false},
   "axis":{"orient":"left","values":[200,300,400,500,600,700,800,900,2000,3000,4000,5000,6000,7000,8000,9000,20000,30000,40000,50000,60000,70000],"tickSize":-7,"labels":false,"domain":false,"title":null}},
  "text":{"field":"lab"}
 }}
],
"resolve":{"axis":{"x":"independent","y":"independent"}}
}
